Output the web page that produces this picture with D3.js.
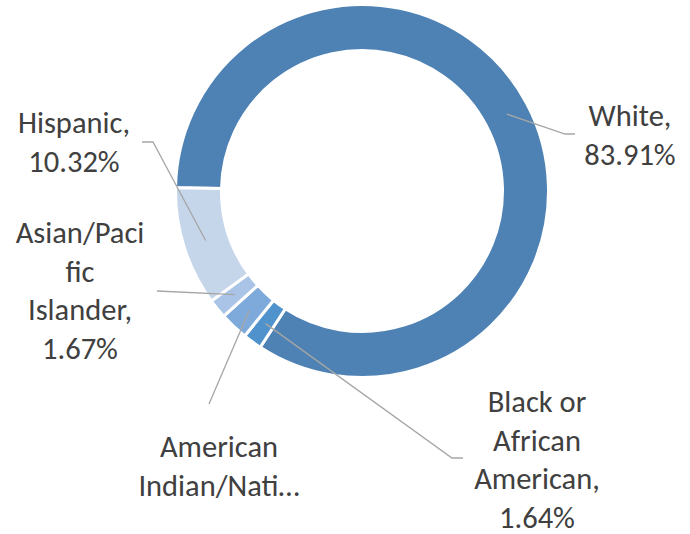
<!DOCTYPE html>
<html>
<head>
<meta charset="utf-8">
<script src="https://cdn.jsdelivr.net/npm/d3@7"></script>
<style>
  html, body { margin: 0; padding: 0; background: #fff; overflow: hidden; }
  text { font-family: Carlito, Calibri, Lato, "Open Sans", sans-serif; }
</style>
</head>
<body>
<svg id="chart" width="690" height="534"></svg>
<script>
// Enrollment share by race/ethnicity (percent), in drawing order (clockwise)
const categories = [
  "White",
  "Black or African American",
  "American Indian/Native Alaskan",
  "Asian/Pacific Islander",
  "Hispanic"
];
const shares = [83.91, 1.64, 2.46, 1.67, 10.32];

// Category text as it wraps inside each data label box
const labelLines = [
  ["White,"],
  ["Black or", "African", "American,"],
  ["American", "Indian/Nati\u2026"],
  ["Asian/Paci", "fic", "Islander,"],
  ["Hispanic,"]
];
const showPercent = [true, true, false, true, true];

const sliceColors = ["#4e82b4", "#5092cc", "#7eaadb", "#a9c4e6", "#c5d5ea"];

// Label boxes: text centre x, first baseline y, and leader-line elbow points
const labelLayout = [
  { x: 630, y: 126, elbow: [[565, 134], [575, 134]] },
  { x: 537, y: 412, elbow: [[452, 458], [463, 458]] },
  { x: 219, y: 457, elbow: [[209, 404]] },
  { x: 80,  y: 243, elbow: [[157, 291]] },
  { x: 74,  y: 133, elbow: [[153, 142], [142, 142]] }
];

const width = 690, height = 534;
const cx = 362, cy = 191;
const outerR = 186.5, innerR = 140.5;
const lineGap = 38.5;
const startDeg = 271;

const svg = d3.select("#chart");
const g = svg.append("g").attr("transform", `translate(${cx},${cy})`);

const pie = d3.pie()
  .sort(null)
  .value(d => d)
  .startAngle(startDeg * Math.PI / 180)
  .endAngle(startDeg * Math.PI / 180 + 2 * Math.PI);

const arcs = pie(shares);

const arc = d3.arc().innerRadius(innerR).outerRadius(outerR);
const midArc = d3.arc().innerRadius(164).outerRadius(164);

const color = d3.scaleOrdinal().domain(categories).range(sliceColors);

g.selectAll("path.slice")
  .data(arcs)
  .join("path")
  .attr("class", "slice")
  .attr("d", arc)
  .attr("fill", (d, i) => color(categories[i]))
  .attr("stroke", "#ffffff")
  .attr("stroke-width", 3)
  .attr("stroke-linejoin", "miter");

// Leader lines from slice centre to label
const line = d3.line();
svg.selectAll("path.leader")
  .data(arcs)
  .join("path")
  .attr("class", "leader")
  .attr("d", (d, i) => {
    const c = midArc.centroid(d);
    const pts = [[c[0] + cx, c[1] + cy]].concat(labelLayout[i].elbow);
    return line(pts);
  })
  .attr("fill", "none")
  .attr("stroke", "#a6a6a6")
  .attr("stroke-width", 1.3);

// Data labels
const fmt = v => v.toFixed(2) + "%";
const labels = svg.selectAll("text.label")
  .data(arcs)
  .join("text")
  .attr("class", "label")
  .attr("text-anchor", "middle")
  .attr("fill", "#404040")
  .attr("font-size", 30.5);

labels.each(function(d, i) {
  const lines = labelLines[i].slice();
  if (showPercent[i]) lines.push(fmt(shares[i]));
  d3.select(this).selectAll("tspan")
    .data(lines)
    .join("tspan")
    .attr("x", labelLayout[i].x)
    .attr("y", (t, k) => labelLayout[i].y + k * lineGap)
    .text(t => t);
});
</script>
</body>
</html>
